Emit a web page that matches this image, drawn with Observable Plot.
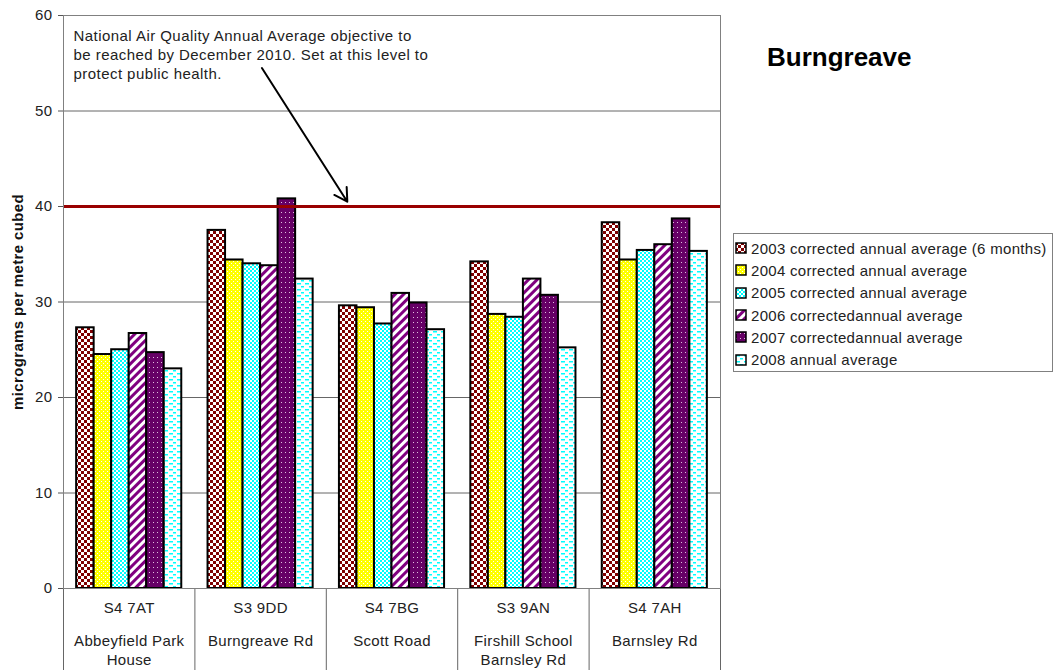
<!DOCTYPE html>
<html><head><meta charset="utf-8">
<script src="https://cdn.jsdelivr.net/npm/d3@7"></script>
<script src="https://cdn.jsdelivr.net/npm/@observablehq/plot@0.6"></script>
<style>
body{margin:0;background:#fff;font-family:"Liberation Sans",Arial,sans-serif;}
#wrap{position:relative;width:1054px;height:670px;}
#chart{position:absolute;left:0;top:0;}
#chart svg text{letter-spacing:0.35px;}
#chart svg .annot text{letter-spacing:0.45px;}
#title{position:absolute;left:767px;top:44px;font-weight:bold;font-size:26px;line-height:26px;color:#000;}
#legend{position:absolute;left:733px;top:233px;width:320px;height:139px;border:1px solid #808080;box-sizing:border-box;padding-top:3px;background:#fff;}
.item{display:flex;align-items:center;height:22.3px;font-size:15px;letter-spacing:0.3px;color:#222;white-space:nowrap;}
.item svg{margin-left:1px;margin-right:4px;flex:none;}
</style></head><body>
<div id="wrap"><div id="chart"></div><div id="title">Burngreave</div><div id="legend"></div></div>
<script>
// ---- data ----
const siteCodes = ["S4 7AT", "S3 9DD", "S4 7BG", "S3 9AN", "S4 7AH"];
const siteNames = ["Abbeyfield Park\nHouse", "Burngreave Rd", "Scott Road", "Firshill School\nBarnsley Rd", "Barnsley Rd"];
const seriesLabels = [
  "2003 corrected annual average (6 months)",
  "2004 corrected annual average",
  "2005 corrected annual average",
  "2006 correctedannual average",
  "2007 correctedannual average",
  "2008 annual average"
];
const v2003 = [27.3, 37.5, 29.6, 34.2, 38.3];
const v2004 = [24.5, 34.4, 29.4, 28.7, 34.4];
const v2005 = [25.0, 34.0, 27.7, 28.4, 35.4];
const v2006 = [26.7, 33.8, 30.9, 32.4, 36.0];
const v2007 = [24.7, 40.8, 29.9, 30.7, 38.7];
const v2008 = [23.0, 32.4, 27.1, 25.2, 35.3];
const yTicks = [0, 10, 20, 30, 40, 50, 60];
const gridValues = [10, 20, 30, 50, 60];
const objective = 40;
const yLabel = "micrograms per metre cubed";
const annotation = "National Air Quality Annual Average objective to\nbe reached by December 2010. Set at this level to\nprotect public health.";
// arrow endpoints in data units (x = site position, y = value)
const arrowFrom = {x: 1.51, y: 54.5};
const arrowTo = {x: 2.16, y: 40.5};

// ---- table ----
const seriesValues = [v2003, v2004, v2005, v2006, v2007, v2008];
const groupPad = 0.1, barW = 0.8 / seriesValues.length;
const rows = [];
seriesValues.forEach((vals, k) => vals.forEach((v, i) => {
  const x1 = i + groupPad + k * barW;
  rows.push({site: siteCodes[i], series: seriesLabels[k], k, value: v, x1, x2: x1 + barW});
}));
const bounds = d3.range(siteCodes.length + 1);
const centers = siteCodes.map((_, i) => i + 0.5);

const plot = Plot.plot({
  width: 1054, height: 670,
  marginLeft: 63, marginRight: 334, marginTop: 15, marginBottom: 82,
  x: {type: "linear", domain: [0, siteCodes.length]},
  y: {domain: [0, 60]},
  style: {fontFamily: "'Liberation Sans', Arial, sans-serif", fontSize: "15px", color: "#222", background: "white", overflow: "visible"},
  marks: [
    Plot.ruleY(gridValues, {stroke: "#666", strokeWidth: 1}),
    Plot.ruleX(bounds, {y1: 0, y2: -8.6, stroke: "#666", strokeWidth: 1}),
    Plot.rectY(rows, {x1: "x1", x2: "x2", y: "value", fill: d => `url(#pat${d.k})`, stroke: "black", strokeWidth: 2}),
    Plot.ruleY([objective], {stroke: "#990000", strokeWidth: 3}),
    Plot.frame({stroke: "#808080"}),
    Plot.axisY({ticks: yTicks, tickSize: 5, tickPadding: 6, fontSize: 15, label: null, stroke: "#555"}),
    Plot.axisX({ticks: centers, tickFormat: d => siteCodes[Math.floor(d)], tickSize: 0, tickPadding: 14, fontSize: 15, label: null}),
    Plot.text(siteNames, {x: (d, i) => centers[i], frameAnchor: "bottom", lineAnchor: "top", dy: 44, lineHeight: 1.27, fontSize: 15, fill: "#222"}),
    Plot.text([annotation], {className: "annot", frameAnchor: "top-left", textAnchor: "start", lineAnchor: "top", dx: 10, dy: 12, lineHeight: 1.27, fontSize: 15, fill: "#222"}),
    Plot.arrow([{}], {x1: () => arrowFrom.x, y1: () => arrowFrom.y, x2: () => arrowTo.x, y2: () => arrowTo.y, stroke: "black", strokeWidth: 2, headLength: 11}),
    Plot.text([yLabel], {frameAnchor: "left", textAnchor: "middle", rotate: -90, dx: -45, fontWeight: "bold", fontSize: 15, fill: "#111"})
  ]
});

// ---- patterns ----
const defs = d3.select(plot).insert("defs", ":first-child");
function pat(id, w, h) {
  return defs.append("pattern").attr("id", id).attr("patternUnits", "userSpaceOnUse").attr("width", w).attr("height", h);
}
let p;
p = pat("pat0", 6, 6);
p.append("rect").attr("width", 6).attr("height", 6).attr("fill", "#fff");
p.append("rect").attr("width", 3).attr("height", 3).attr("fill", "#800000");
p.append("rect").attr("x", 3).attr("y", 3).attr("width", 3).attr("height", 3).attr("fill", "#800000");
p = pat("pat1", 4, 4);
p.append("rect").attr("width", 4).attr("height", 4).attr("fill", "#ffff00");
p.append("rect").attr("x", 1).attr("y", 1).attr("width", 1).attr("height", 1).attr("fill", "#fff");
p.append("rect").attr("x", 3).attr("y", 3).attr("width", 1).attr("height", 1).attr("fill", "#fff");
p = pat("pat2", 4, 4);
p.append("rect").attr("width", 4).attr("height", 4).attr("fill", "#fff");
p.append("rect").attr("width", 2).attr("height", 2).attr("fill", "#00ffff");
p.append("rect").attr("x", 2).attr("y", 2).attr("width", 2).attr("height", 2).attr("fill", "#00ffff");
p = pat("pat3", 6, 6).attr("patternTransform", "rotate(45)");
p.append("rect").attr("width", 6).attr("height", 6).attr("fill", "#fff");
p.append("rect").attr("width", 3).attr("height", 6).attr("fill", "#800080");
p = pat("pat4", 4, 5);
p.append("rect").attr("width", 4).attr("height", 5).attr("fill", "#660066");
p.append("rect").attr("x", 1).attr("y", 2).attr("width", 1).attr("height", 1).attr("fill", "#e0c0e0");
p = pat("pat5", 8, 6);
p.append("rect").attr("width", 8).attr("height", 6).attr("fill", "#fff");
p.append("rect").attr("x", 1).attr("y", 1).attr("width", 4).attr("height", 1.5).attr("fill", "#00ffff");
p.append("rect").attr("x", 5).attr("y", 4).attr("width", 3).attr("height", 1.5).attr("fill", "#00ffff");

document.getElementById("chart").appendChild(plot);

// ---- legend ----
const legend = d3.select("#legend");
seriesLabels.forEach((label, k) => {
  const it = legend.append("div").attr("class", "item");
  const s = it.append("svg").attr("width", 12).attr("height", 12);
  s.append("rect").attr("x", 1).attr("y", 1).attr("width", 10).attr("height", 10)
    .attr("fill", `url(#pat${k})`).attr("stroke", "black").attr("stroke-width", 1.5);
  it.append("span").text(label);
});
</script>
</body></html>
